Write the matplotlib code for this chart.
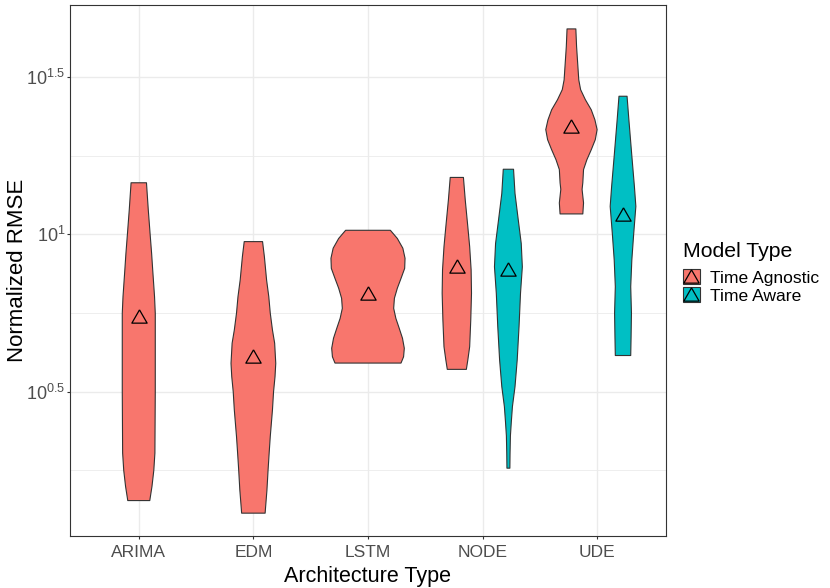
import numpy as np
import matplotlib.pyplot as plt
from matplotlib.patches import Patch
from matplotlib.lines import Line2D

plt.rcParams['font.family'] = ['Liberation Sans', 'DejaVu Sans']

# categorias y grupos
categories = ['ARIMA', 'EDM', 'LSTM', 'NODE', 'UDE']
groups = ['Time Agnostic', 'Time Aware']
colors = {'Time Agnostic': '#F8766D', 'Time Aware': '#00BFC4'}

# perfiles de los violines: log10(RMSE) y densidad relativa
arima_agn_log = [0.154, 0.199, 0.25, 0.305, 0.5, 0.749, 0.802, 0.887, 0.94, 1.0, 1.077, 1.164]
arima_agn_dens = [0.30, 0.36, 0.41, 0.44, 0.45, 0.45, 0.43, 0.38, 0.35, 0.31, 0.26, 0.21]

edm_agn_log = [0.114, 0.188, 0.25, 0.305, 0.357, 0.442, 0.5, 0.548, 0.59, 0.654,
               0.696, 0.75, 0.802, 0.855, 0.929, 0.977]
edm_agn_dens = [0.32, 0.37, 0.40, 0.43, 0.46, 0.52, 0.55, 0.59, 0.61, 0.58,
                0.52, 0.46, 0.42, 0.36, 0.30, 0.25]

lstm_agn_log = [0.591, 0.611, 0.638, 0.670, 0.702, 0.733, 0.765, 0.797, 0.829, 0.860,
                0.892, 0.924, 0.956, 0.987, 1.013]
lstm_agn_dens = [0.90, 0.97, 0.99, 0.94, 0.85, 0.76, 0.70, 0.72, 0.80, 0.90,
                 1.00, 1.01, 0.95, 0.80, 0.61]

node_agn_log = [0.571, 0.601, 0.643, 0.728, 0.813, 0.887, 0.961, 1.024, 1.109, 1.181]
node_agn_dens = [0.26, 0.30, 0.35, 0.38, 0.40, 0.39, 0.35, 0.30, 0.23, 0.18]

node_awr_log = [0.257, 0.305, 0.360, 0.405, 0.453, 0.516, 0.601, 0.707, 0.813, 0.897,
                0.971, 1.045, 1.130, 1.207]
node_awr_dens = [0.04, 0.045, 0.055, 0.08, 0.11, 0.18, 0.24, 0.29, 0.33, 0.38,
                 0.35, 0.27, 0.18, 0.14]

ude_agn_log = [1.065, 1.100, 1.143, 1.164, 1.206, 1.237, 1.269, 1.301, 1.333, 1.364,
               1.396, 1.428, 1.460, 1.491, 1.544, 1.597, 1.653]
ude_agn_dens = [0.31, 0.33, 0.29, 0.31, 0.33, 0.42, 0.54, 0.65, 0.70, 0.64,
                0.54, 0.38, 0.25, 0.20, 0.17, 0.14, 0.12]

ude_awr_log = [0.615, 0.675, 0.75, 0.834, 0.918, 1.0, 1.089, 1.153, 1.25, 1.364, 1.439]
ude_awr_dens = [0.21, 0.22, 0.23, 0.21, 0.24, 0.29, 0.35, 0.31, 0.24, 0.16, 0.11]

# medias (log10)
mean_log = {
    ('ARIMA', 'Time Agnostic'): 0.741,
    ('EDM', 'Time Agnostic'): 0.615,
    ('LSTM', 'Time Agnostic'): 0.815,
    ('NODE', 'Time Agnostic'): 0.899,
    ('NODE', 'Time Aware'): 0.891,
    ('UDE', 'Time Agnostic'): 1.343,
    ('UDE', 'Time Aware'): 1.064,
}

violines = [
    ('ARIMA', 'Time Agnostic', arima_agn_log, arima_agn_dens),
    ('EDM', 'Time Agnostic', edm_agn_log, edm_agn_dens),
    ('LSTM', 'Time Agnostic', lstm_agn_log, lstm_agn_dens),
    ('NODE', 'Time Agnostic', node_agn_log, node_agn_dens),
    ('NODE', 'Time Aware', node_awr_log, node_awr_dens),
    ('UDE', 'Time Agnostic', ude_agn_log, ude_agn_dens),
    ('UDE', 'Time Aware', ude_awr_log, ude_awr_dens),
]

VIOLIN_HALF = 0.32   # media anchura maxima en unidades de x
DODGE = 0.225

# triangulo equilatero (como pch=2 de R)
tri = [(0, 0.87), (-1, -0.87), (1, -0.87), (0, 0.87)]

fig = plt.figure(figsize=(8.3, 5.88), dpi=100)
ax = fig.add_axes([70/830, 1 - 536/588, (666 - 70)/830, (536 - 5)/588])

n_grupos = {c: sum(1 for v in violines if v[0] == c) for c in categories}

for cat, grp, logs, dens in violines:
    xc = categories.index(cat) + 1
    if n_grupos[cat] > 1:
        xc += -DODGE if grp == 'Time Agnostic' else DODGE
    y = 10 ** np.array(logs)
    hw = np.array(dens) * VIOLIN_HALF
    xs = np.concatenate([xc - hw, (xc + hw)[::-1]])
    ys = np.concatenate([y, y[::-1]])
    ax.fill(xs, ys, facecolor=colors[grp], edgecolor='#333333', lw=0.8,
            joinstyle='round', zorder=2)
    ax.plot(xc, 10 ** mean_log[(cat, grp)], marker=tri, ms=11, mfc='none',
            mec='black', mew=0.9, ls='none', zorder=3)

ax.set_yscale('log')
ax.set_ylim(10 ** 0.0414, 10 ** 1.729)
ax.set_xlim(0.4, 5.6)

ax.set_yticks([10 ** 0.5, 10, 10 ** 1.5])
ax.set_yticklabels([r'$\mathregular{10^{0.5}}$', r'$\mathregular{10^{1}}$',
                    r'$\mathregular{10^{1.5}}$'])
ax.set_yticks([10 ** 0.25, 10 ** 0.75, 10 ** 1.25], minor=True)
ax.yaxis.set_minor_formatter(plt.NullFormatter())
ax.set_xticks(range(1, len(categories) + 1))
ax.set_xticklabels(categories)

ax.grid(which='major', color='#EBEBEB', lw=1.0)
ax.grid(which='minor', axis='y', color='#EBEBEB', lw=0.6)
ax.set_axisbelow(True)

ax.tick_params(which='major', length=2.5, width=0.8, color='#333333',
               labelcolor='#4D4D4D')
ax.tick_params(axis='x', labelsize=12.5, pad=4)
ax.tick_params(axis='y', labelsize=13, pad=1)
ax.tick_params(which='minor', length=0)
for s in ax.spines.values():
    s.set_color('#333333')
    s.set_linewidth(0.8)

ax.set_xlabel('Architecture Type', fontsize=15.5, labelpad=4)
ax.set_ylabel('Normalized RMSE', fontsize=16)
ax.yaxis.set_label_coords(-0.070, 0.5)

# leyenda
fig.text(683/830, 1 - 256.7/588, 'Model Type', fontsize=15.3, va='baseline')
handles = [(Patch(facecolor=colors[g], edgecolor='#333333', lw=0.8),
            Line2D([], [], marker=tri, ls='none', ms=11, mfc='none', mec='black', mew=0.9))
           for g in groups]
fig.legend(handles, groups, loc='upper left', bbox_to_anchor=(683/830, 1 - 269/588),
           frameon=False, fontsize=12.6, handlelength=0.95, handleheight=0.95,
           handletextpad=0.6, labelspacing=0.1, borderpad=0, borderaxespad=0)

fig.savefig('out.png', dpi=100)
